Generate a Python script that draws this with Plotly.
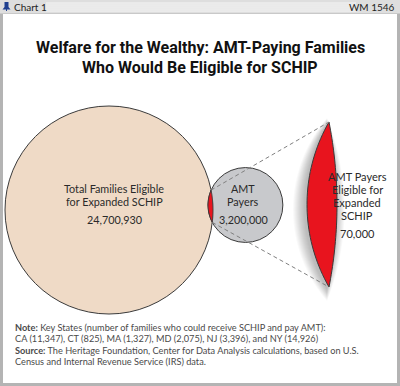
import math
import plotly.graph_objects as go

# ---------------- data ----------------
big_label = ["Total Families Eligible", "for Expanded SCHIP"]
mid_label = ["AMT", "Payers"]
lens_label = ["AMT Payers", "Eligible for", "Expanded", "SCHIP"]
circle_values = [24700930, 3200000, 70000]
state_codes = ["CA", "CT", "MA", "MD", "NJ", "NY"]
state_values = [11347, 825, 1327, 2075, 3396, 14926]
title_lines = ["Welfare for the Wealthy: AMT-Paying Families", "Who Would Be Eligible for SCHIP"]
chart_id = "Chart 1"
report_id = "WM 1546"

# ---------------- styles ----------------
W, H = 400, 386
PEACH = "#efdac6"
GREY = "#c8c9cc"
RED = "#e8141e"
EDGE = "#3a3a3a"
BODY_FONT = "Lato, 'Open Sans', sans-serif"
TITLE_FONT = "Roboto, 'Open Sans', sans-serif"

fig = go.Figure()
shapes = []
ann = []

# frame
shapes.append(dict(type="rect", x0=0, y0=0, x1=W, y1=H, fillcolor="#b4b4b4", line_width=0, layer="below"))
shapes.append(dict(type="rect", x0=0, y0=0, x1=W, y1=13.5, fillcolor="#dedede", line_width=0, layer="below"))
for yy in [3, 5, 7, 9, 11]:
    shapes.append(dict(type="line", x0=46, x1=356, y0=yy, y1=yy, line=dict(color="#f7f7f7", width=1), layer="below"))
shapes.append(dict(type="rect", x0=3, y0=14, x1=W - 3, y1=H - 3, fillcolor="white", line_width=0, layer="below"))
# bell icon
shapes.append(dict(type="path", path="M4.5,2 L8.5,2 L8.5,7 L10.5,9.5 L2.5,9.5 L4.5,7 Z M6,9.5 L7,9.5 L7,11 L6,11 Z",
                   fillcolor="#1f3f8f", line_width=0))

# ---------------- circles (area proportional to value) ----------------
k = 104 / math.sqrt(circle_values[0])
r1 = k * math.sqrt(circle_values[0])
r2 = k * math.sqrt(circle_values[1])
c1 = (109.0, 210.0)
overlap = 5.0
c2 = (c1[0] + r1 + r2 - overlap, 205.0)


def circle(c, r, fill):
    return dict(type="circle", x0=c[0] - r, x1=c[0] + r, y0=c[1] - r, y1=c[1] + r,
                fillcolor=fill, line=dict(color=EDGE, width=1))


shapes.append(circle(c1, r1, PEACH))
shapes.append(circle(c2, r2, GREY))

# intersection lens
dx, dy = c2[0] - c1[0], c2[1] - c1[1]
d = math.hypot(dx, dy)
a = (d * d + r1 * r1 - r2 * r2) / (2 * d)
h = math.sqrt(max(r1 * r1 - a * a, 0))
phi = math.atan2(dy, dx)
t1 = math.atan2(h, a)
t2 = math.atan2(h, d - a)
N = 30
pts = []
for i in range(N + 1):
    t = -t1 + 2 * t1 * i / N
    pts.append((c1[0] + r1 * math.cos(phi + t), c1[1] + r1 * math.sin(phi + t)))
psi = phi + math.pi
for i in range(N + 1):
    t = -t2 + 2 * t2 * i / N
    pts.append((c2[0] + r2 * math.cos(psi + t), c2[1] + r2 * math.sin(psi + t)))
path = "M" + " L".join(f"{x:.2f},{y:.2f}" for x, y in pts) + " Z"
shapes.append(dict(type="path", path=path, fillcolor=RED, line=dict(color=EDGE, width=1)))
ip_a = pts[N]
ip_b = pts[0]
top_ip = ip_a if ip_a[1] < ip_b[1] else ip_b
bot_ip = ip_b if ip_a[1] < ip_b[1] else ip_a

# ---------------- magnified lens ----------------
tip_x, tip_top, tip_bot = 329.0, 122.0, 287.0
sag_left, sag_right = 22.0, 8.0


def lens_path(tx, ty0, ty1, sl, sr, n=40):
    c = (ty1 - ty0) / 2
    ym = (ty0 + ty1) / 2
    RL = (c * c + sl * sl) / (2 * sl)
    RR = (c * c + sr * sr) / (2 * sr)
    p = []
    for i in range(n + 1):
        y = ty0 + (ty1 - ty0) * i / n
        off = math.sqrt(max(RL * RL - (y - ym) ** 2, 0)) - (RL - sl)
        p.append((tx - off, y))
    for i in range(n + 1):
        y = ty1 - (ty1 - ty0) * i / n
        off = math.sqrt(max(RR * RR - (y - ym) ** 2, 0)) - (RR - sr)
        p.append((tx + off, y))
    return "M" + " L".join(f"{x:.2f},{y:.2f}" for x, y in p) + " Z"


# soft shadow
for e in range(12, 0, -1):
    shapes.append(dict(type="path",
                       path=lens_path(tip_x - 2, tip_top - e * 0.5 + 2, tip_bot + e * 1.0 + 2,
                                      sag_left + e, sag_right + e * 0.8),
                       fillcolor="rgba(0,0,0,0.022)", line_width=0))
shapes.append(dict(type="path", path=lens_path(tip_x, tip_top, tip_bot, sag_left, sag_right),
                   fillcolor=RED, line=dict(color=EDGE, width=1)))

# dashed connectors
for ip, ty in [(top_ip, tip_top), (bot_ip, tip_bot)]:
    shapes.append(dict(type="line", x0=ip[0], y0=ip[1], x1=tip_x, y1=ty,
                       line=dict(color="#808080", width=1, dash="4px,3px")))


# ---------------- text ----------------
def txt(x, y, s, size, color="#231f20", anchor="center", font=BODY_FONT, weight=None):
    f = dict(family=font, size=size, color=color)
    if weight:
        f["weight"] = weight
    ann.append(dict(x=x, y=y, xref="x", yref="y", text=s, showarrow=False, xanchor=anchor,
                    yanchor="middle", font=f, align=anchor, borderpad=0))


def fmt(v):
    return f"{v:,}"


txt(13, 7, chart_id, 10, color="#222", anchor="left")
txt(396, 7, report_id, 10, color="#222", anchor="right")

txt(200, 47, title_lines[0], 16, color="#111", font=TITLE_FONT, weight="bold")
txt(200, 67, title_lines[1], 16, color="#111", font=TITLE_FONT, weight="bold")

LBL = "#2a2a2a"
txt(114, 188, big_label[0], 10.8, LBL)
txt(114, 201, big_label[1], 10.8, LBL)
txt(114, 219.5, fmt(circle_values[0]), 10.8, LBL)
txt(243, 188, mid_label[0], 10.8, LBL)
txt(243, 201, mid_label[1], 10.8, LBL)
txt(243, 219.5, fmt(circle_values[1]), 10.8, LBL)
for i, s in enumerate(lens_label):
    txt(357, 176 + 13.2 * i, s, 11, LBL)
txt(357, 233, fmt(circle_values[2]), 11, LBL)

states = ", ".join(f"{c} ({fmt(v)})" for c, v in zip(state_codes[:-1], state_values[:-1]))
states += f", and {state_codes[-1]} ({fmt(state_values[-1])})"
FOOT = "#4a4a4a"
FS = 9.2
txt(14, 327.5, "<b>Note:</b> Key States (number of families who could receive SCHIP and pay AMT):", FS, FOOT, "left")
txt(14, 338.5, states, FS, FOOT, "left")
txt(14, 350, "<b>Source:</b> The Heritage Foundation, Center for Data Analysis calculations, based on U.S.", FS, FOOT, "left")
txt(14, 361, "Census and Internal Revenue Service (IRS) data.", FS, FOOT, "left")

fig.update_layout(
    width=W, height=H, margin=dict(l=0, r=0, t=0, b=0),
    paper_bgcolor="white", plot_bgcolor="white",
    xaxis=dict(range=[0, W], visible=False, fixedrange=True),
    yaxis=dict(range=[H, 0], visible=False, fixedrange=True),
    shapes=shapes, annotations=ann, showlegend=False,
)
fig.write_html("out.html", config={"displayModeBar": False},
               post_script="document.body.style.margin='0';document.body.style.padding='0';"
                           "document.body.style.overflow='hidden';")
